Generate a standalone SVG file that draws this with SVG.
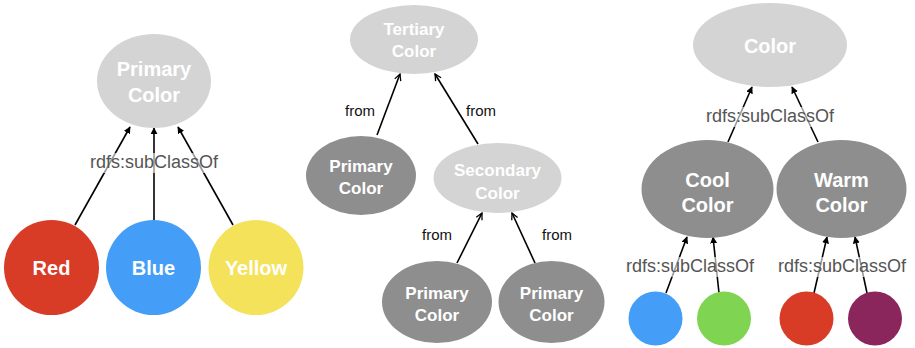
<svg xmlns="http://www.w3.org/2000/svg" width="915" height="348" viewBox="0 0 915 348">
  <defs>
    <marker id="tri" viewBox="0 0 10 10" refX="9" refY="5" markerWidth="7" markerHeight="7" markerUnits="userSpaceOnUse" orient="auto">
      <path d="M0,0 L10,5 L0,10 z" fill="#000"/>
    </marker>
    <marker id="open" viewBox="0 0 10 10" refX="9" refY="5" markerWidth="8" markerHeight="8" markerUnits="userSpaceOnUse" orient="auto">
      <path d="M1,1 L9,5 L1,9" fill="none" stroke="#000" stroke-width="1.6"/>
    </marker>
    <style>
      .light { fill: #d4d4d4; }
      .dark { fill: #8e8e8e; }
      .name { font-family: "Liberation Sans", Arial, sans-serif; font-weight: bold; fill: #fff; text-anchor: middle; }
      .edge { stroke: #000; stroke-width: 1.6; fill: none; }
      .sub { marker-end: url(#tri); }
      .from { marker-end: url(#open); }
      .rel { font-family: "Liberation Sans", Arial, sans-serif; fill: #555; text-anchor: middle; font-size: 18px; }
      .fromlbl { font-family: "Liberation Sans", Arial, sans-serif; fill: #111; text-anchor: middle; font-size: 15px; }
      .veil { fill: #fff; opacity: 0.6; }
    </style>
  </defs>

  <!-- connectors -->
  <g id="connectors">
    <!-- left tree -->
    <line class="edge sub" x1="75" y1="225" x2="130" y2="127"/>
    <line class="edge sub" x1="154" y1="221" x2="154" y2="128"/>
    <line class="edge sub" x1="233" y1="225" x2="178" y2="127"/>
    <!-- middle tree -->
    <line class="edge from" x1="377" y1="135" x2="400" y2="74"/>
    <line class="edge from" x1="478" y1="144" x2="435" y2="74"/>
    <line class="edge from" x1="457" y1="263" x2="482" y2="213"/>
    <line class="edge from" x1="535" y1="263" x2="512" y2="213"/>
    <!-- right tree -->
    <line class="edge sub" x1="728" y1="142" x2="752" y2="87"/>
    <line class="edge sub" x1="818" y1="142" x2="792" y2="87"/>
    <line class="edge sub" x1="666" y1="293" x2="687" y2="237"/>
    <line class="edge sub" x1="719" y1="293" x2="713" y2="237"/>
    <line class="edge sub" x1="814" y1="293" x2="827" y2="237"/>
    <line class="edge sub" x1="867" y1="293" x2="855" y2="237"/>
  </g>

  <!-- connector labels -->
  <g id="labels">
    <rect class="veil" x="86" y="153" width="136" height="20"/>
    <text class="rel" x="154" y="168">rdfs:subClassOf</text>
    <text class="fromlbl" x="360" y="116">from</text>
    <text class="fromlbl" x="481" y="116">from</text>
    <text class="fromlbl" x="437" y="240">from</text>
    <text class="fromlbl" x="557" y="240">from</text>
    <rect class="veil" x="702" y="107" width="136" height="20"/>
    <text class="rel" x="770" y="122">rdfs:subClassOf</text>
    <rect class="veil" x="622" y="257" width="136" height="20"/>
    <text class="rel" x="690" y="272">rdfs:subClassOf</text>
    <rect class="veil" x="774" y="257" width="136" height="20"/>
    <text class="rel" x="842" y="272">rdfs:subClassOf</text>
  </g>

  <!-- left tree nodes -->
  <g id="primary-color">
    <ellipse class="light" cx="154" cy="81" rx="57" ry="47"/>
    <text class="name" x="154" y="76" font-size="20">Primary</text>
    <text class="name" x="154" y="102" font-size="20">Color</text>
  </g>
  <g id="red">
    <circle cx="51.5" cy="267.5" r="47.5" fill="#d83b26"/>
    <text class="name" x="51.5" y="275" font-size="20">Red</text>
  </g>
  <g id="blue">
    <circle cx="153.5" cy="267.5" r="47.5" fill="#449ef7"/>
    <text class="name" x="153.5" y="275" font-size="20">Blue</text>
  </g>
  <g id="yellow">
    <circle cx="256" cy="267.5" r="47.5" fill="#f4e25b"/>
    <text class="name" x="256" y="275" font-size="20">Yellow</text>
  </g>

  <!-- middle tree nodes -->
  <g id="tertiary-color">
    <ellipse class="light" cx="414" cy="39.5" rx="64" ry="34.5"/>
    <text class="name" x="414" y="35" font-size="17">Tertiary</text>
    <text class="name" x="414" y="57" font-size="17">Color</text>
  </g>
  <g id="primary-a">
    <ellipse class="dark" cx="361" cy="175.5" rx="55" ry="39.5"/>
    <text class="name" x="361" y="172" font-size="17">Primary</text>
    <text class="name" x="361" y="194" font-size="17">Color</text>
  </g>
  <g id="secondary-color">
    <ellipse class="light" cx="497.5" cy="178" rx="64" ry="35"/>
    <text class="name" x="497.5" y="176" font-size="17">Secondary</text>
    <text class="name" x="497.5" y="199" font-size="17">Color</text>
  </g>
  <g id="primary-b">
    <ellipse class="dark" cx="437" cy="302" rx="55" ry="41"/>
    <text class="name" x="437" y="299" font-size="17">Primary</text>
    <text class="name" x="437" y="321" font-size="17">Color</text>
  </g>
  <g id="primary-c">
    <ellipse class="dark" cx="551.5" cy="302" rx="53" ry="41"/>
    <text class="name" x="551.5" y="299" font-size="17">Primary</text>
    <text class="name" x="551.5" y="321" font-size="17">Color</text>
  </g>

  <!-- right tree nodes -->
  <g id="color">
    <ellipse class="light" cx="770" cy="45" rx="77" ry="42"/>
    <text class="name" x="770" y="53" font-size="20">Color</text>
  </g>
  <g id="cool-color">
    <ellipse class="dark" cx="707.5" cy="189" rx="66" ry="49"/>
    <text class="name" x="707.5" y="187" font-size="20">Cool</text>
    <text class="name" x="707.5" y="212" font-size="20">Color</text>
  </g>
  <g id="warm-color">
    <ellipse class="dark" cx="841.5" cy="189" rx="65" ry="49"/>
    <text class="name" x="841.5" y="187" font-size="20">Warm</text>
    <text class="name" x="841.5" y="212" font-size="20">Color</text>
  </g>
  <g id="cool-blue">
    <circle cx="655.5" cy="318.5" r="27" fill="#449ef7"/>
  </g>
  <g id="cool-green">
    <circle cx="724" cy="318.5" r="27" fill="#7fd452"/>
  </g>
  <g id="warm-red">
    <circle cx="806.5" cy="318.5" r="27" fill="#d83b26"/>
  </g>
  <g id="warm-purple">
    <circle cx="875" cy="318.5" r="27" fill="#8a265c"/>
  </g>
</svg>
